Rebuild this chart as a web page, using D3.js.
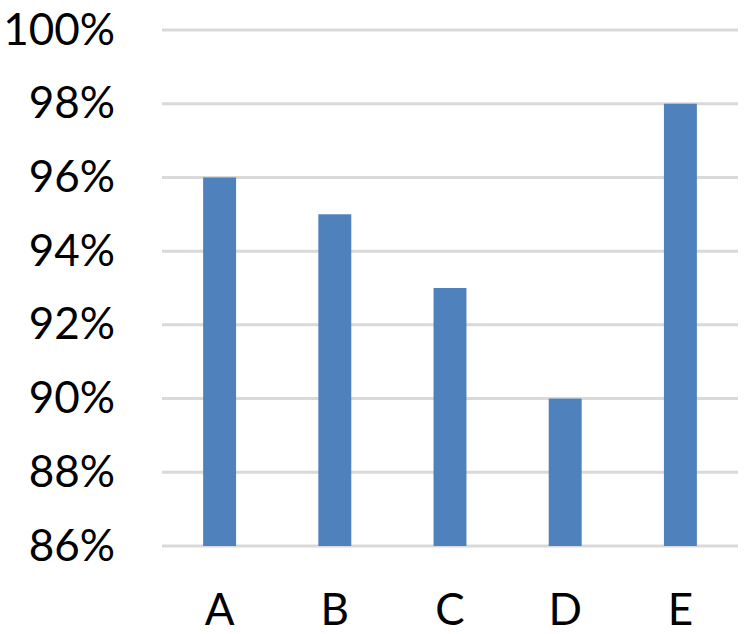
<!DOCTYPE html>
<html>
<head>
<meta charset="utf-8">
<script src="https://cdn.jsdelivr.net/npm/d3@7"></script>
<style>
  html, body { margin: 0; padding: 0; background: #ffffff; }
  svg { display: block; }
  text { font-family: Lato, "Open Sans", sans-serif; fill: #000000; }
</style>
</head>
<body>
<svg id="chart" width="755" height="634"></svg>
<script>
const categories = ["A", "B", "C", "D", "E"];
const values = [0.96, 0.95, 0.93, 0.90, 0.98];
const yTicks = [0.86, 0.88, 0.90, 0.92, 0.94, 0.96, 0.98, 1.00];

const width = 755, height = 634;
const margin = { top: 30, right: 17, bottom: 88, left: 162 };

const svg = d3.select("#chart");
const g = svg.append("g").attr("transform", `translate(${margin.left},${margin.top})`);
const innerW = width - margin.left - margin.right;
const innerH = height - margin.top - margin.bottom;

const x = d3.scaleBand().domain(categories).range([0, innerW]).paddingInner(0.714).paddingOuter(0.357);
const y = d3.scaleLinear().domain([0.86, 1.00]).range([innerH, 0]);

// gridlines
g.append("g")
  .selectAll("line")
  .data(yTicks)
  .join("line")
  .attr("x1", 0).attr("x2", innerW)
  .attr("y1", d => y(d)).attr("y2", d => y(d))
  .attr("stroke", "#d9d9d9")
  .attr("stroke-width", 3);

// bars
g.append("g")
  .selectAll("rect")
  .data(values)
  .join("rect")
  .attr("x", (d, i) => x(categories[i]))
  .attr("width", x.bandwidth())
  .attr("y", d => y(d))
  .attr("height", d => y(0.86) - y(d))
  .attr("fill", "#4f81bd");

// y axis
const yAxis = d3.axisLeft(y).tickValues(yTicks).tickFormat(d3.format(".0%")).tickSize(0).tickPadding(47);
const ya = g.append("g").call(yAxis);
ya.select(".domain").remove();
ya.selectAll("text").style("font-size", "44px").style("font-family", "Lato, sans-serif").attr("fill", "#000");

// x axis
const xAxis = d3.axisBottom(x).tickSize(0).tickPadding(48);
const xa = g.append("g").attr("transform", `translate(0,${innerH})`).call(xAxis);
xa.select(".domain").remove();
xa.selectAll("text").style("font-size", "44px").style("font-family", "Lato, sans-serif").attr("fill", "#000");
</script>
</body>
</html>
